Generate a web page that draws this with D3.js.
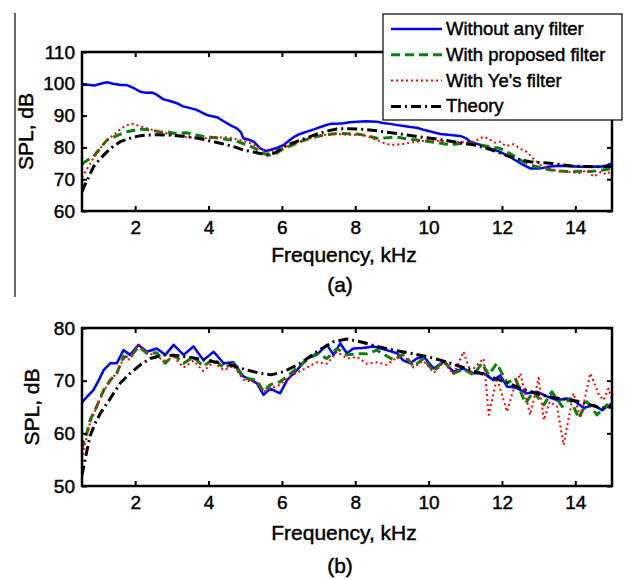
<!DOCTYPE html>
<html>
<head>
<meta charset="utf-8">
<script src="https://cdn.jsdelivr.net/npm/d3@7"></script>
<style>
  body { margin: 0; background: #fff; }
  svg text { font-family: "Liberation Sans", Arial, sans-serif; fill: #000; stroke: #000; stroke-width: 0.45px; }
</style>
</head>
<body>
<svg id="chart" width="625" height="579"></svg>
<script>
// ---- data: [frequency kHz, SPL dB] ----
const xTicks = [2, 4, 6, 8, 10, 12, 14];
const yTicksA = [60, 70, 80, 90, 100, 110];
const yTicksB = [50, 60, 70, 80];
const seriesNames = ["Without any filter", "With proposed filter", "With Ye's filter", "Theory"];

// panel (a)
const blueA = [[0.55,99.8],[0.7,99.7],[0.9,99.5],[1.05,100],[1.23,100.5],[1.4,100],[1.6,99.6],[1.77,99.6],[1.95,98.7],[2.14,97.5],[2.3,97.2],[2.45,97.3],[2.6,96.5],[2.77,95.1],[2.95,94.6],[3.14,93.9],[3.3,92.9],[3.45,92.5],[3.68,91.8],[3.85,90.8],[3.95,90.2],[4.1,89.8],[4.23,89.5],[4.4,88.3],[4.59,87],[4.77,86],[4.88,84.8],[4.95,82.9],[5.1,82.4],[5.23,81.8],[5.41,79.7],[5.55,78.9],[5.68,79.2],[5.85,79.8],[6.05,80.8],[6.2,82.2],[6.32,83.2],[6.45,84],[6.59,84.6],[6.75,85.2],[6.95,86],[7.15,86.8],[7.32,87.4],[7.5,87.4],[7.68,87.6],[7.85,87.9],[8.05,88.1],[8.3,88.2],[8.59,88.1],[8.75,87.7],[8.95,87.4],[9.15,87],[9.32,86.7],[9.5,86.4],[9.68,86.2],[9.85,85.6],[10.05,85],[10.32,84.2],[10.59,83.9],[10.86,83.6],[11,83],[11.14,81.8],[11.41,80.8],[11.68,79.7],[11.95,78.6],[12.23,76.9],[12.5,75],[12.77,73.4],[13.05,73.4],[13.3,74],[13.59,74.2],[13.85,74.1],[14.14,73.9],[14.4,74],[14.68,73.9],[14.85,74.3],[15,75]];
const greenA = [[0.55,74.8],[0.7,76],[0.86,77.1],[1.05,79.8],[1.23,82.3],[1.41,83.2],[1.6,84.2],[1.77,84.9],[1.95,85.3],[2.14,85.7],[2.32,85.6],[2.5,85.3],[2.7,84.8],[2.86,84.9],[3.1,84.4],[3.41,84.6],[3.7,83.8],[3.95,83.2],[4.15,83.1],[4.32,82.9],[4.5,82.5],[4.68,82.3],[4.85,81.6],[5.05,80.8],[5.25,79.8],[5.41,78.6],[5.55,77.9],[5.68,77.6],[5.85,78.2],[6.05,79.7],[6.25,80.6],[6.5,81.8],[6.7,82.6],[6.95,83.4],[7.2,84],[7.5,84.4],[7.75,84.3],[8.05,84.2],[8.3,83.7],[8.59,82.9],[8.85,83],[9.14,83.2],[9.4,82.7],[9.68,82.3],[9.85,82.1],[10.05,81.8],[10.3,81.4],[10.59,80.8],[10.85,81.2],[11.14,81.3],[11.4,80.8],[11.68,80.2],[11.9,79.8],[12.05,79.2],[12.25,77.8],[12.5,76],[12.77,74.5],[13.05,73.6],[13.32,72.9],[13.6,72.6],[13.86,72.4],[14.14,72.5],[14.41,72.4],[14.7,72.8],[15,73.4]];
const redA = [[0.55,70.5],[0.65,72.5],[0.8,75.5],[0.95,78],[1.1,80.5],[1.25,82.5],[1.41,83.9],[1.6,85.8],[1.77,87],[1.95,87.4],[2.1,86.8],[2.32,86],[2.55,85.3],[2.86,84.4],[3.1,83.6],[3.41,83.2],[3.7,83],[3.95,82.9],[4.2,83.1],[4.5,83.2],[4.75,82.6],[5.05,81.8],[5.3,80.4],[5.5,79],[5.65,78.5],[5.85,79],[6.05,80],[6.3,81],[6.5,81.8],[6.7,82.7],[6.95,83.4],[7.2,84],[7.5,84.2],[7.8,84],[8.2,83.9],[8.4,83.2],[8.59,82.3],[8.8,81.3],[8.95,80.8],[9.15,80.9],[9.32,81.1],[9.5,81.5],[9.68,81.8],[9.9,82.1],[10.05,82.3],[10.35,82],[10.68,81.8],[10.95,81.6],[11.23,81.8],[11.4,82.8],[11.5,83.4],[11.65,82.6],[11.8,81.5],[11.95,81.8],[12.1,80.4],[12.32,81],[12.5,79.5],[12.68,78.6],[12.85,76.5],[13.05,74.5],[13.3,73.2],[13.59,72.4],[13.85,72.2],[14.14,71.9],[14.3,72.8],[14.5,70.8],[14.7,72.3],[14.85,71.5],[15,72.9]];
const theoryA = [[0.55,66],[0.6,67.5],[0.75,71],[0.86,73.9],[1.05,76.5],[1.23,78.6],[1.4,80.3],[1.59,81.8],[1.78,82.6],[1.95,83.2],[2.15,83.7],[2.32,83.9],[2.6,84],[2.86,83.9],[3.15,83.7],[3.41,83.4],[3.7,82.9],[3.95,82.3],[4.2,81.6],[4.5,80.8],[4.75,80],[4.95,79.2],[5.2,78.6],[5.41,78.1],[5.6,77.6],[5.8,78.2],[6.05,80.2],[6.25,81.2],[6.5,82.3],[6.75,83.3],[6.95,84.2],[7.25,85.2],[7.5,85.8],[7.8,85.9],[8.05,85.8],[8.3,85.6],[8.59,85.2],[8.85,84.8],[9.14,84.4],[9.4,83.9],[9.68,83.4],[10.05,82.9],[10.35,82.4],[10.68,81.8],[10.95,81.3],[11.23,80.8],[11.5,80],[11.77,79],[12.05,77.8],[12.32,76.6],[12.55,76],[12.77,75.5],[13.05,75.2],[13.32,75],[13.6,74.6],[13.86,74.2],[14.2,74],[14.5,73.9],[14.8,74],[15,74]];

// panel (b)
const blueB = [[0.55,65.8],[0.6,66.3],[0.86,68.2],[1.0,70],[1.14,72],[1.32,73.3],[1.5,73.3],[1.68,75.8],[1.86,74.9],[2.09,76.8],[2.32,75.5],[2.59,76.1],[2.82,74.9],[3.05,76.8],[3.32,74.9],[3.59,76.5],[3.86,73.9],[4.14,75.5],[4.41,73.3],[4.68,73.5],[4.95,70.8],[5.15,70.2],[5.32,69.5],[5.5,67.3],[5.68,68.5],[5.95,67.6],[6.14,70.1],[6.41,72],[6.68,74.2],[6.95,74.9],[7.23,76.8],[7.41,74.9],[7.59,77.1],[7.77,75.2],[7.95,76.1],[8.2,76.2],[8.5,76.5],[8.86,75.8],[9.14,75.2],[9.3,73.9],[9.5,73.3],[9.68,74.2],[9.86,74.6],[10.14,72.3],[10.41,73.6],[10.68,71.7],[10.95,72.3],[11.23,71.4],[11.5,71.4],[11.77,70.1],[11.95,71],[12.14,68.9],[12.41,68.6],[12.68,67.6],[12.95,67.9],[13.23,67],[13.5,66.3],[13.77,66.6],[13.95,66.3],[14.23,64.8],[14.5,65.4],[14.73,64.4],[15,65.7]];
const greenB = [[0.55,57],[0.6,58.5],[0.7,60.5],[0.77,62.5],[0.95,65.1],[1.14,68.2],[1.32,70.1],[1.5,71.4],[1.68,74.6],[1.86,74.4],[2.09,76.5],[2.32,75.2],[2.59,75.3],[2.82,73.3],[3.05,74.9],[3.32,73.3],[3.59,74.5],[3.86,72.7],[4.14,74.2],[4.41,72.4],[4.68,73.3],[4.95,70.5],[5.32,70.1],[5.5,67.9],[5.68,69.2],[5.95,69.8],[6.14,70.8],[6.41,72.4],[6.68,73.9],[6.95,75.2],[7.23,74.2],[7.5,76.1],[7.77,74.9],[8.05,75.1],[8.32,75.1],[8.59,75.8],[9.05,73.9],[9.32,75.1],[9.59,72.7],[9.86,74.2],[10.14,71.7],[10.41,73.9],[10.68,71.4],[10.95,72.2],[11.23,71.1],[11.45,73.3],[11.64,71.1],[11.86,73.3],[12.14,69.5],[12.36,70.5],[12.64,65.7],[12.86,67.9],[13.14,65.4],[13.36,67.9],[13.64,65.1],[13.86,66.6],[14.09,62.9],[14.32,66],[14.59,63.5],[14.86,65.4],[15,64.8]];
const redB = [[0.55,55],[0.6,57],[0.7,60],[0.77,62],[0.95,65],[1.14,68],[1.32,70],[1.5,71.5],[1.68,74.2],[1.86,74],[2.09,76.9],[2.32,75.5],[2.59,74.5],[2.82,73.8],[3.05,74.5],[3.32,72.5],[3.59,73.8],[3.86,71.8],[4.14,73.5],[4.41,72],[4.68,72.8],[4.95,70.2],[5.32,69.5],[5.5,68],[5.68,68.5],[5.95,69.2],[6.14,70.5],[6.41,71.5],[6.68,72.5],[6.95,73.5],[7.23,73.2],[7.5,75.5],[7.77,74.2],[8.05,74.5],[8.32,73.2],[8.59,73.5],[8.86,73],[9.05,74],[9.32,74.8],[9.59,72.5],[9.86,73.8],[10.14,71.5],[10.41,73.5],[10.68,71.2],[10.95,75.5],[11.14,71.7],[11.5,74.2],[11.64,63.5],[11.86,70.5],[12.14,64.1],[12.3,68],[12.5,71.4],[12.77,63.5],[13.0,70.5],[13.14,62.5],[13.3,66],[13.5,65.1],[13.68,57.8],[13.95,67.6],[14.14,62.9],[14.41,71.4],[14.55,69],[14.64,67.3],[14.77,66.3],[14.9,68.5],[15,66.5]];
const theoryB = [[0.55,52],[0.65,55.6],[0.77,59.5],[0.9,61.8],[1.05,63.8],[1.32,66.6],[1.59,69.5],[1.86,71.4],[2.14,73],[2.41,74.2],[2.77,74.9],[3.23,74.7],[3.68,74.2],[4.14,73.6],[4.59,73],[5.05,72],[5.41,71.4],[5.7,71.1],[6.05,71.7],[6.5,73.3],[6.95,75.5],[7.41,77.4],[7.77,77.9],[8.14,77.4],[8.59,76.5],[9.05,75.8],[9.5,75.2],[9.95,74.6],[10.32,73.9],[10.86,72.7],[11.41,71.4],[11.95,70.1],[12.5,68.6],[13.05,67.3],[13.59,66.6],[14.14,66],[14.68,64.8],[15,65]];

// line styles (blue, green, red, black)
const styles = [
  { color: "#0000ff", width: 2.5, dash: null },
  { color: "#0b800b", width: 3, dash: "9,5" },
  { color: "#ff0000", width: 2, dash: "2,3" },
  { color: "#000000", width: 3, dash: "10,4,2,4" }
];

const svg = d3.select("#chart");

// stray rule on the left edge of the scan
svg.append("line")
  .attr("x1", 15).attr("x2", 15).attr("y1", 13).attr("y2", 297)
  .attr("stroke", "#000").attr("stroke-width", 1.2);

const drawPanel = ({ top, bottom, yDomain, yTicks, series, caption, captionY, xLabelY, yLabelX }) => {
  const left = 82, right = 612;
  const x = d3.scaleLinear().domain([0.55, 15]).range([left, right]);
  const y = d3.scaleLinear().domain(yDomain).range([bottom, top]);
  const g = svg.append("g");

  const line = d3.line().x(d => x(d[0])).y(d => y(d[1]));
  const clipId = "clip" + top;
  g.append("defs").append("clipPath").attr("id", clipId)
    .append("rect").attr("x", left).attr("y", top).attr("width", right - left).attr("height", bottom - top);

  const plot = g.append("g").attr("clip-path", `url(#${clipId})`);
  series.forEach((s, i) => {
    plot.append("path")
      .datum(s)
      .attr("d", line)
      .attr("fill", "none")
      .attr("stroke", styles[i].color)
      .attr("stroke-width", styles[i].width)
      .attr("stroke-dasharray", styles[i].dash)
      .attr("stroke-linejoin", "round");
  });

  // axes with inward ticks
  const bottomAxis = d3.axisBottom(x).tickValues(xTicks).tickSize(-5).tickPadding(10);
  const topAxis = d3.axisTop(x).tickValues(xTicks).tickSize(-5).tickFormat("");
  const leftAxis = d3.axisLeft(y).tickValues(yTicks).tickSize(-5).tickPadding(7);
  const rightAxis = d3.axisRight(y).tickValues(yTicks).tickSize(-5).tickFormat("");

  const styleAxis = (sel) => {
    sel.select(".domain").remove();
    sel.selectAll(".tick line").attr("stroke", "#000").attr("stroke-width", 2);
    sel.selectAll(".tick text").attr("font-size", 19).attr("fill", "#000")
      .style("font-family", "'Liberation Sans', Arial, sans-serif");
  };
  g.append("g").attr("transform", `translate(0,${bottom})`).call(bottomAxis).call(styleAxis);
  g.append("g").attr("transform", `translate(0,${top})`).call(topAxis).call(styleAxis);
  g.append("g").attr("transform", `translate(${left},0)`).call(leftAxis).call(styleAxis);
  g.append("g").attr("transform", `translate(${right},0)`).call(rightAxis).call(styleAxis);

  g.append("rect")
    .attr("x", left).attr("y", top).attr("width", right - left).attr("height", bottom - top)
    .attr("fill", "none").attr("stroke", "#000").attr("stroke-width", 2.5);

  g.append("text")
    .attr("x", 344).attr("y", xLabelY)
    .attr("text-anchor", "middle").attr("font-size", 21)
    .text("Frequency, kHz");

  g.append("text")
    .attr("transform", `translate(${yLabelX},${(top + bottom) / 2}) rotate(-90)`)
    .attr("text-anchor", "middle").attr("font-size", 21)
    .text("SPL, dB");

  g.append("text")
    .attr("x", 340).attr("y", captionY)
    .attr("text-anchor", "middle").attr("font-size", 21)
    .text(caption);

  return g;
};

const panelA = drawPanel({
  top: 52, bottom: 211, yDomain: [60, 110], yTicks: yTicksA,
  series: [blueA, greenA, redA, theoryA],
  caption: "(a)", captionY: 292, xLabelY: 262, yLabelX: 33
});

drawPanel({
  top: 328, bottom: 486, yDomain: [50, 80], yTicks: yTicksB,
  series: [blueB, greenB, redB, theoryB],
  caption: "(b)", captionY: 573, xLabelY: 540, yLabelX: 39
});

// legend (panel a)
const legend = panelA.append("g");
legend.append("rect")
  .attr("x", 383).attr("y", 14).attr("width", 239).attr("height", 106)
  .attr("fill", "#fff").attr("stroke", "#000").attr("stroke-width", 1.2);

seriesNames.forEach((name, i) => {
  const base = 35 + i * 25.8;
  legend.append("line")
    .attr("x1", 391).attr("x2", 442)
    .attr("y1", base - 6).attr("y2", base - 6)
    .attr("stroke", styles[i].color)
    .attr("stroke-width", styles[i].width)
    .attr("stroke-dasharray", styles[i].dash);
  legend.append("text")
    .attr("x", 446).attr("y", base)
    .attr("font-size", 18.5)
    .text(name);
});
</script>
</body>
</html>
